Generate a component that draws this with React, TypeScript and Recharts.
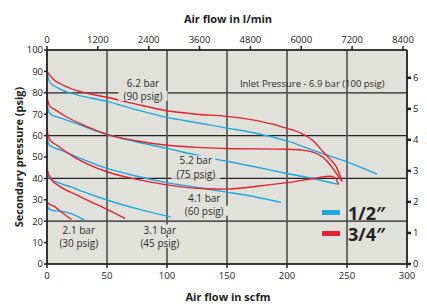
import React from 'react';
import { LineChart, Line, XAxis, YAxis, CartesianGrid, ReferenceDot, Legend } from 'recharts';

const scfmTicks = [0, 50, 100, 150, 200, 250, 300];
const lpmTicks = [0, 1200, 2400, 3600, 4800, 6000, 7200, 8400];
const psigTicks = [0, 10, 20, 30, 40, 50, 60, 70, 80, 90, 100];
const barTicks = [0, 1, 2, 3, 4, 5, 6];

// 1/2" regulator, secondary pressure (psig) vs air flow (scfm)
const half90 = [
  { x: 0, y: 90 }, { x: 1, y: 87 }, { x: 3, y: 84.5 }, { x: 10, y: 82 }, { x: 25, y: 79 },
  { x: 50, y: 76 }, { x: 75, y: 72 }, { x: 100, y: 68.5 }, { x: 125, y: 66 }, { x: 150, y: 63.5 },
  { x: 175, y: 61 }, { x: 200, y: 57.5 }, { x: 225, y: 52.5 }, { x: 250, y: 47.7 }, { x: 275, y: 42 },
];
const half75 = [
  { x: 0, y: 75 }, { x: 1, y: 72 }, { x: 3, y: 70 }, { x: 10, y: 68.5 }, { x: 25, y: 65.5 },
  { x: 50, y: 60.5 }, { x: 75, y: 57 }, { x: 100, y: 54 }, { x: 125, y: 50.8 }, { x: 150, y: 48 },
  { x: 175, y: 45.2 }, { x: 200, y: 42.3 }, { x: 225, y: 39.5 }, { x: 242, y: 37.3 },
];
const half60 = [
  { x: 0, y: 61 }, { x: 1, y: 57 }, { x: 2, y: 55.6 }, { x: 11, y: 53.3 }, { x: 25, y: 50 },
  { x: 50, y: 44.7 }, { x: 75, y: 41 }, { x: 100, y: 38 }, { x: 125, y: 35.8 }, { x: 150, y: 33.6 },
  { x: 175, y: 31.2 }, { x: 195, y: 28.8 },
];
const half45 = [
  { x: 0, y: 44.7 }, { x: 1, y: 41 }, { x: 2.5, y: 40 }, { x: 11, y: 37.7 }, { x: 20, y: 36 },
  { x: 30, y: 33.8 }, { x: 50, y: 29.9 }, { x: 77, y: 25.5 }, { x: 103, y: 22 },
];
const half30 = [
  { x: 0, y: 30 }, { x: 1, y: 26 }, { x: 5, y: 25 }, { x: 11, y: 24.7 }, { x: 16, y: 24.2 },
  { x: 24, y: 22.6 }, { x: 31.5, y: 20.4 },
];

// 3/4" regulator
const threeQ90 = [
  { x: 0, y: 90 }, { x: 2, y: 88.5 }, { x: 5, y: 86.5 }, { x: 12, y: 84 }, { x: 25, y: 81 },
  { x: 50, y: 77.9 }, { x: 75, y: 74.6 }, { x: 100, y: 71.6 }, { x: 125, y: 70 }, { x: 150, y: 69 },
  { x: 175, y: 67 }, { x: 200, y: 63.4 }, { x: 212, y: 61 }, { x: 222, y: 57.5 }, { x: 230, y: 52.5 },
  { x: 236, y: 49 }, { x: 241, y: 45.5 }, { x: 246, y: 38.6 },
];
const threeQ75 = [
  { x: 0, y: 78 }, { x: 2, y: 74 }, { x: 7, y: 72 }, { x: 16, y: 68.8 }, { x: 30, y: 65 },
  { x: 50, y: 60.6 }, { x: 75, y: 57.5 }, { x: 100, y: 55.5 }, { x: 125, y: 54.5 }, { x: 150, y: 54 },
  { x: 200, y: 53.6 }, { x: 213, y: 53.2 }, { x: 227, y: 51 }, { x: 235, y: 47 }, { x: 241, y: 42.4 },
  { x: 245.5, y: 38.9 },
];
const threeQ60 = [
  { x: 0, y: 62.5 }, { x: 1, y: 60 }, { x: 2.5, y: 58 }, { x: 8, y: 55.6 }, { x: 22, y: 50.2 },
  { x: 50, y: 43.1 }, { x: 77, y: 39.3 }, { x: 100, y: 37 }, { x: 125, y: 35.4 }, { x: 150, y: 35 },
  { x: 175, y: 36.3 }, { x: 200, y: 38 }, { x: 225, y: 40.2 }, { x: 236, y: 41 }, { x: 240, y: 40.3 },
  { x: 243, y: 37 },
];
const threeQ45 = [
  { x: 0, y: 44.5 }, { x: 1, y: 42.4 }, { x: 4, y: 39.3 }, { x: 10, y: 36.5 }, { x: 16, y: 34.5 },
  { x: 22, y: 33 }, { x: 33, y: 30 }, { x: 50, y: 25.5 }, { x: 65, y: 21.3 },
];
const threeQ30 = [
  { x: 0, y: 29 }, { x: 2, y: 28 }, { x: 6.5, y: 26.8 }, { x: 13, y: 23.8 }, { x: 20.5, y: 20.8 },
];

const halfSeries = [half90, half75, half60, half45, half30];
const threeQSeries = [threeQ90, threeQ75, threeQ60, threeQ45, threeQ30];

const barLabels = ['6.2 bar', '5.2 bar', '4.1 bar', '3.1 bar', '2.1 bar'];
const psigLabels = ['(90 psig)', '(75 psig)', '(60 psig)', '(45 psig)', '(30 psig)'];
const inletNote = 'Inlet Pressure - 6.9 bar (100 psig)';
const legendItems = [
  { name: '1/2\u2033', color: '#1fa8e0' },
  { name: '3/4\u2033', color: '#e4222b' },
];

const BLUE = '#1fa8e0';
const RED = '#e4222b';
const PLOT_BG = '#e1e1dc';
const FONT = '"Open Sans", "Noto Sans", sans-serif';
const LITERS_PER_SCF = 28.3168;
const PSI_PER_BAR = 14.5038;

// where each pressure label sits, in scfm / psig
const notePlaces = [
  { x: 80, top: 84.4, bottom: 78.6 },
  { x: 124, top: 48.4, bottom: 42.2 },
  { x: 131, top: 30.8, bottom: 24.9 },
  { x: 94, top: 16.1, bottom: 10 },
  { x: 26.5, top: 16.1, bottom: 10 },
];

// the hidden helper series that makes the l/min axis draw
const lpmRange = lpmTicks.map((t) => ({ lpm: t }));

const noteShape = (text: string, size: number, bg: boolean) => (props: any) => {
  const { cx, cy } = props;
  const w = text.length * size * 0.5 + 4;
  return (
    <g>
      {bg && <rect x={cx - w / 2} y={cy - size * 0.5} width={w} height={size} fill={PLOT_BG} />}
      <text x={cx} y={cy} textAnchor="middle" dominantBaseline="central" fontSize={size} fill="#2a2a2a" fontFamily={FONT}>
        {text}
      </text>
    </g>
  );
};

const renderLegend = () => (
  <div style={{ fontFamily: FONT }}>
    {legendItems.map((it) => (
      <div key={it.name} style={{ display: 'flex', alignItems: 'center', height: 21 }}>
        <div style={{ width: 18, height: 5, background: it.color, marginRight: 8 }} />
        <span style={{ fontSize: 18, fontWeight: 700, color: '#222', lineHeight: '18px' }}>{it.name}</span>
      </div>
    ))}
  </div>
);

export default function App() {
  return (
    <div style={{ position: 'absolute', left: 0, top: 0, width: 427, height: 307, background: '#fff' }}>
      <LineChart width={427} height={307} margin={{ top: 0, right: 0, bottom: 0, left: 0 }}>
        <CartesianGrid
          xAxisId="scfm"
          yAxisId="psig"
          fill={PLOT_BG}
          stroke="#222"
          strokeWidth={1.2}
          vertical={false}
          horizontalValues={psigTicks}
        />
        <CartesianGrid
          xAxisId="scfm"
          yAxisId="psig"
          stroke="#555"
          strokeWidth={1.7}
          horizontal={false}
          verticalValues={scfmTicks}
        />
        <XAxis
          xAxisId="scfm"
          type="number"
          dataKey="x"
          orientation="bottom"
          domain={[0, 300]}
          ticks={scfmTicks}
          height={43}
          tickSize={4}
          tickMargin={4}
          stroke="#222"
          strokeWidth={1.5}
          tick={{ fontSize: 9.5, fill: '#222', fontFamily: FONT }}
          allowDataOverflow
          label={() => (
            <text x={228} y={301} textAnchor="middle" fontSize={11} fontWeight={700} fill="#222" fontFamily={FONT}>
              Air flow in scfm
            </text>
          )}
        />
        <XAxis
          xAxisId="lpm"
          type="number"
          dataKey="lpm"
          orientation="top"
          domain={[0, 300 * LITERS_PER_SCF]}
          ticks={lpmTicks}
          height={50}
          tickSize={4}
          tickMargin={3}
          stroke="#222"
          strokeWidth={1.5}
          tick={{ fontSize: 9.5, fill: '#222', fontFamily: FONT }}
          allowDataOverflow
          label={() => (
            <text x={228} y={23} textAnchor="middle" fontSize={11} fontWeight={700} fill="#222" fontFamily={FONT}>
              Air flow in l/min
            </text>
          )}
        />
        <YAxis
          yAxisId="psig"
          orientation="left"
          domain={[0, 100]}
          ticks={psigTicks}
          width={47}
          tickSize={3}
          tickMargin={1}
          stroke="#222"
          strokeWidth={1.5}
          tick={{ fontSize: 9.5, fill: '#222', fontFamily: FONT }}
          allowDataOverflow
          label={() => (
            <text
              x={18}
              y={157}
              transform="rotate(-90 18 157)"
              textAnchor="middle"
              dominantBaseline="central"
              fontSize={11}
              fontWeight={700}
              fill="#222"
              fontFamily={FONT}
            >
              Secondary pressure (psig)
            </text>
          )}
        />
        <YAxis
          yAxisId="bar"
          orientation="right"
          domain={[0, 100 / PSI_PER_BAR]}
          ticks={barTicks}
          width={20}
          tickSize={4}
          tickMargin={2}
          stroke="#222"
          strokeWidth={1.5}
          tickLine={{ strokeWidth: 2.5 }}
          tick={{ fontSize: 9.5, fill: '#222', fontFamily: FONT }}
          allowDataOverflow
          label={() => (
            <text
              x={434}
              y={150}
              transform="rotate(90 434 150)"
              textAnchor="middle"
              dominantBaseline="central"
              fontSize={11}
              fontWeight={700}
              fill="#222"
              fontFamily={FONT}
            >
              Secondary pressure (bar)
            </text>
          )}
        />
        {notePlaces.map((p, i) => (
          <ReferenceDot
            key={'b' + i}
            xAxisId="scfm"
            yAxisId="psig"
            x={p.x}
            y={p.top}
            r={0}
            ifOverflow="visible"
            shape={noteShape(barLabels[i], 10, true)}
          />
        ))}
        {notePlaces.map((p, i) => (
          <ReferenceDot
            key={'p' + i}
            xAxisId="scfm"
            yAxisId="psig"
            x={p.x}
            y={p.bottom}
            r={0}
            ifOverflow="visible"
            shape={noteShape(psigLabels[i], 10, true)}
          />
        ))}
        <ReferenceDot
          xAxisId="scfm"
          yAxisId="psig"
          x={221}
          y={84.5}
          r={0}
          ifOverflow="visible"
          shape={noteShape(inletNote, 9.5, false)}
        />
        <Line
          xAxisId="lpm"
          yAxisId="psig"
          data={lpmRange}
          dataKey="y"
          stroke="none"
          dot={false}
          legendType="none"
          isAnimationActive={false}
        />
        {halfSeries.map((d, i) => (
          <Line
            key={'h' + i}
            xAxisId="scfm"
            yAxisId="psig"
            data={d}
            dataKey="y"
            type="monotone"
            stroke={BLUE}
            strokeWidth={1.4}
            dot={false}
            isAnimationActive={false}
          />
        ))}
        {threeQSeries.map((d, i) => (
          <Line
            key={'t' + i}
            xAxisId="scfm"
            yAxisId="psig"
            data={d}
            dataKey="y"
            type="monotone"
            stroke={RED}
            strokeWidth={1.4}
            dot={false}
            isAnimationActive={false}
          />
        ))}
        <Legend
          layout="horizontal"
          verticalAlign="middle"
          content={renderLegend}
          wrapperStyle={{ position: 'absolute', left: 322, top: 202, width: 80 }}
        />
      </LineChart>
    </div>
  );
}
